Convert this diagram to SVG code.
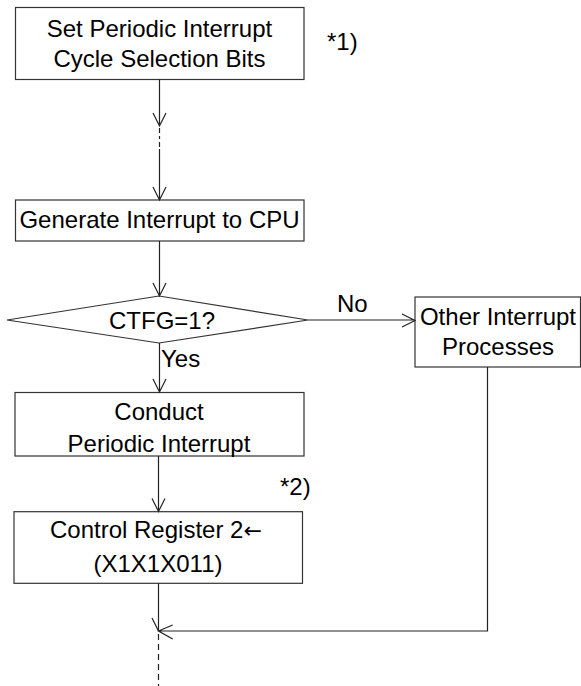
<svg xmlns="http://www.w3.org/2000/svg" width="581" height="686" viewBox="0 0 581 686">
<style>
.box{fill:#fff;stroke:#333;stroke-width:1.2}
.ln{fill:none;stroke:#222;stroke-width:1.2}
.dash{fill:none;stroke:#222;stroke-width:1.2;stroke-dasharray:6 4}
text{font-family:"Liberation Sans",Arial,sans-serif;font-size:24px;fill:#000}
.c{text-anchor:middle}
.arr{font-family:"DejaVu Sans",sans-serif;font-size:22px}
</style>
<rect width="581" height="686" fill="#fff"/>
<g id="n1">
<rect class="box" x="15.5" y="7.5" width="288.5" height="72"/>
<text class="c" x="159.5" y="36.5">Set Periodic Interrupt</text>
<text class="c" x="159.5" y="66.5">Cycle Selection Bits</text>
</g>
<text id="note1" x="327" y="50">*1)</text>
<g id="n2">
<rect class="box" x="15.5" y="200" width="288.5" height="41"/>
<text class="c" x="159.5" y="227.5">Generate Interrupt to CPU</text>
</g>
<g id="n3">
<polygon class="box" points="7,320 159,296 308,320 159,343"/>
<text class="c" x="162" y="328.5">CTFG=1?</text>
</g>
<g id="n4">
<rect class="box" x="415" y="297" width="165.5" height="70"/>
<text class="c" x="498" y="325">Other Interrupt</text>
<text class="c" x="498" y="355">Processes</text>
</g>
<g id="n5">
<rect class="box" x="15" y="392.5" width="289" height="63.5"/>
<text class="c" x="159" y="419.5">Conduct</text>
<text class="c" x="159" y="451.5">Periodic Interrupt</text>
</g>
<text id="note2" x="280" y="495">*2)</text>
<g id="n6">
<rect class="box" x="14" y="511.7" width="288.5" height="71.6"/>
<text x="50" y="538.3">Control Register 2<tspan class="arr">←</tspan></text>
<text class="c" x="158" y="571.7">(X1X1X011)</text>
</g>
<g id="connectors">
<path class="ln" d="M159.5,79.5 V126 M153,113 L159.5,126 L166,113"/>
<path class="ln" d="M159.5,128 V133 M159.5,136 V139 M159.5,142 V147 M159.5,149 V200 M153,187 L159.5,200 L166,187"/>
<path class="ln" d="M159.5,241 V296 M153,283 L159.5,296 L166,283"/>
<path class="ln" d="M308,320 H415 M402,314 L415,320.5 L402,327"/>
<path class="ln" d="M159.5,343 V392 M153,379 L159.5,392 L166,379"/>
<path class="ln" d="M158.5,456 V511.5 M152,498.5 L158.5,511.5 L165,498.5"/>
<path class="ln" d="M158.5,583.3 V631 M152,618 L158.5,631"/>
<path class="ln" d="M487.5,367 V631 H158.5 M172.7,625 L158.5,631 L172.7,639"/>
<path class="dash" d="M158.5,634 V686"/>
</g>
<text x="161" y="367">Yes</text>
<text x="337" y="312">No</text>
</svg>
